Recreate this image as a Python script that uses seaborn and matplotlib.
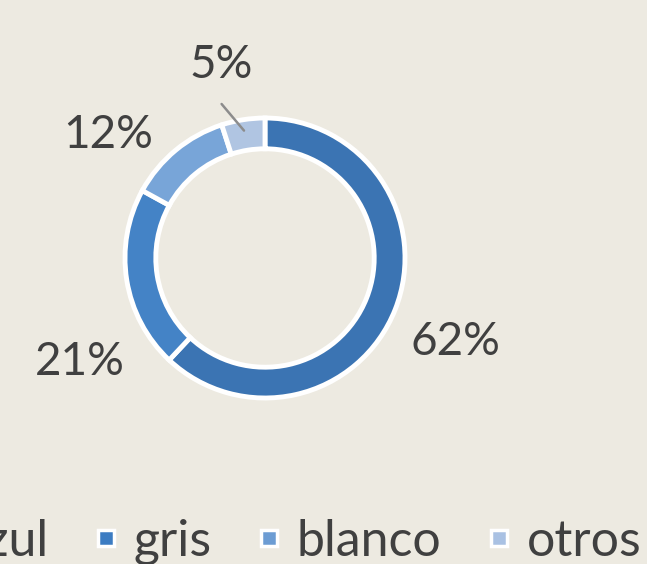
import numpy as np
import matplotlib
matplotlib.use("Agg")
import matplotlib.pyplot as plt
from matplotlib.lines import Line2D
import seaborn as sns

# datos
categorias = ['azul', 'gris', 'blanco', 'otros']
valores = [62, 21, 12, 5]
etiquetas = ['62%', '21%', '12%', '5%']
colores = ['#3b74b3', '#4483c6', '#78a5d8', '#b0c5e2']
colores_leyenda = ['#2f68a8', '#3c7cc2', '#6c9cd3', '#a9c1e3']

sns.set_theme(style='white')
plt.rcParams['font.family'] = ['Lato', 'DejaVu Sans']
fondo = '#edeae1'
texto = '#404040'

fig = plt.figure(figsize=(6.47, 5.64), dpi=100, facecolor=fondo)
W, H = 647, 564
cx, cy, R = 265, 258, 140
lado = 400
ax = fig.add_axes([(cx - lado / 2) / W, (H - cy - lado / 2) / H, lado / W, lado / H])
ax.set_facecolor(fondo)

ax.pie(valores, colors=colores, startangle=90, counterclock=False, radius=1,
       wedgeprops=dict(width=0.22, edgecolor='white', linewidth=3.5))

lim = lado / 2 / R
ax.set_xlim(-lim, lim)
ax.set_ylim(-lim, lim)
ax.set_aspect('equal')
ax.axis('off')

# posiciones de las etiquetas (relativas al radio)
pos_etiquetas = [(1.36, -0.60), (-1.32, -0.74), (-1.12, 0.88), (-0.31, 1.38)]
for txt, (x, y) in zip(etiquetas, pos_etiquetas):
    ax.text(x, y, txt, fontsize=33, color=texto, ha='center', va='center', clip_on=False)

# línea guía del 5%
ax.plot([-0.31, -0.15], [1.10, 0.91], color='#8c8c8c', lw=1.8, solid_capstyle='round')

handles = [Line2D([], [], marker='s', linestyle='none', markersize=11,
                  markerfacecolor=c, markeredgecolor='white', markeredgewidth=2.5)
           for c in colores_leyenda]
fig.legend(handles, categorias, loc='center right', bbox_to_anchor=(1.022, 1 - 542 / H),
           ncol=4, frameon=False, fontsize=36, labelcolor=texto,
           handlelength=0.5, handletextpad=0.3, columnspacing=0.9, borderaxespad=0.0)

fig.savefig('out.png', dpi=100, facecolor=fondo)
